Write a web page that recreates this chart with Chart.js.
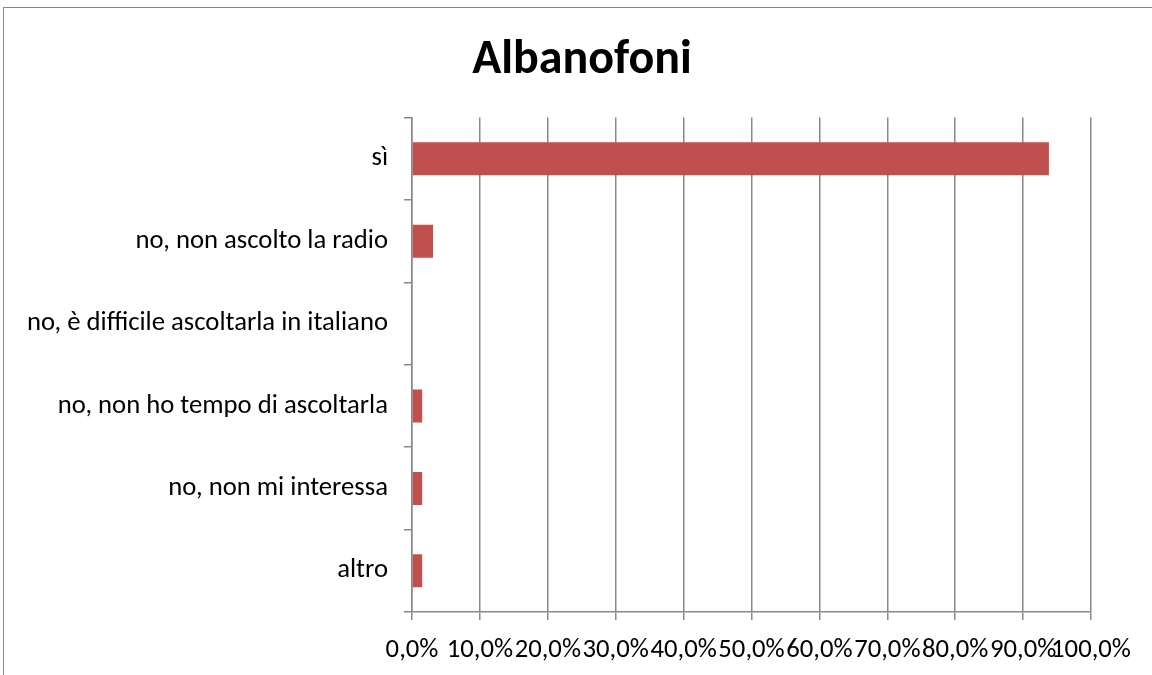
<!DOCTYPE html>
<html>
<head>
<meta charset="utf-8">
<script src="https://cdn.jsdelivr.net/npm/chart.js@4"></script>
<style>
  html, body { margin: 0; padding: 0; background: #fff; overflow: hidden; }
  #frame { position: absolute; left: 3px; top: 7px; width: 1200px; height: 700px; border: 1px solid #888; }
  #myChart { position: absolute; left: 0; top: 0; }
</style>
</head>
<body>
<div id="frame"></div>
<canvas id="myChart" width="1152" height="675"></canvas>
<script>
// Albanofoni - ascolti la radio in italiano?
var categories = ["sì", "no, non ascolto la radio", "no, è difficile ascoltarla in italiano",
                  "no, non ho tempo di ascoltarla", "no, non mi interessa", "altro"];
var values = [93.8, 3.1, 0, 1.5, 1.5, 1.5];
var tickValues = [0, 10, 20, 30, 40, 50, 60, 70, 80, 90, 100];

var font = "Carlito, Lato, 'Open Sans', sans-serif";
var grey = "#888888";

// il titolo sta al centro di tutto il riquadro, non solo dell'area a sinistra del padding
var titleShift = {
  id: "titleShift",
  afterLayout: function (chart) {
    if (chart.titleBlock) {
      chart.titleBlock.left = 12;
      chart.titleBlock.right = 1152;
    }
  }
};

var ctx = document.getElementById("myChart");
var myChart = new Chart(ctx, {
  type: "bar",
  data: {
    labels: categories,
    datasets: [
      {
        label: "Albanofoni",
        data: values,
        backgroundColor: "#C0504D",
        borderWidth: 0,
        barPercentage: 0.4,
        categoryPercentage: 1.0
      }
    ]
  },
  options: {
    indexAxis: "y",
    responsive: false,
    animation: false,
    devicePixelRatio: 1,
    layout: { padding: { left: 0, right: 61, top: 0, bottom: 0 } },
    plugins: {
      legend: { display: false },
      tooltip: { enabled: false },
      title: {
        display: true,
        text: "Albanofoni",
        color: "#000",
        font: { family: font, size: 48, weight: "bold" },
        padding: { top: 32, bottom: 28 }
      }
    },
    scales: {
      x: {
        min: 0,
        max: 100,
        afterFit: function (scale) { scale.height = 63; },
        afterBuildTicks: function (scale) {
          scale.ticks = tickValues.map(function (v) { return { value: v }; });
        },
        ticks: {
          autoSkip: false,
          maxRotation: 0,
          minRotation: 0,
          padding: 14,
          color: "#000",
          font: { family: font, size: 26.7 },
          callback: function (v) { return v.toFixed(1).replace(".", ",") + "%"; }
        },
        grid: { color: grey, lineWidth: 1.5, tickLength: 8 },
        border: { color: grey, width: 1.5 }
      },
      y: {
        afterFit: function (scale) { scale.width = 412; },
        ticks: {
          padding: 16,
          color: "#000",
          font: { family: font, size: 26.7 }
        },
        grid: { drawOnChartArea: false, color: grey, lineWidth: 1.5, tickLength: 8, offset: true },
        border: { color: grey, width: 1.5 }
      }
    }
  },
  plugins: [titleShift]
});
</script>
</body>
</html>
